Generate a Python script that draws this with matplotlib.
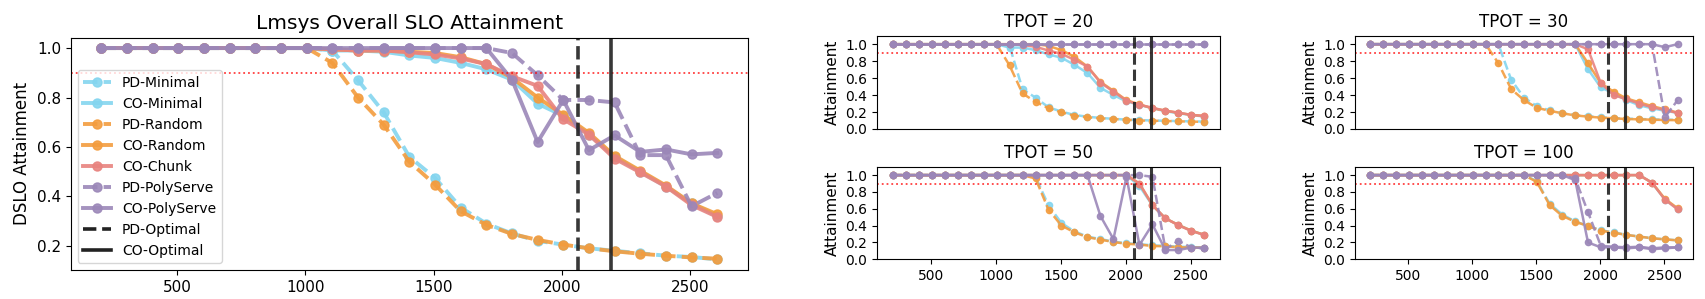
import matplotlib
matplotlib.use("Agg")
import matplotlib.pyplot as plt
from matplotlib.lines import Line2D

# ---------------- data ----------------
x_rate = [205, 305, 405, 505, 605, 705, 805, 905, 1005, 1105, 1205, 1305, 1405,
          1505, 1605, 1705, 1805, 1905, 2005, 2105, 2205, 2305, 2405, 2505, 2605]

series_names = ["PD-Minimal", "CO-Minimal", "PD-Random", "CO-Random",
                "CO-Chunk", "PD-PolyServe", "CO-PolyServe"]

pd_optimal_rate = 2062
co_optimal_rate = 2192
slo_target = 0.9

# Overall (main panel)
main_pd_minimal = [1.0, 1.0, 1.0, 1.0, 1.0, 1.0, 1.0, 1.0, 1.0, 0.99, 0.87, 0.74, 0.56,
                   0.475, 0.355, 0.29, 0.25, 0.22, 0.205, 0.19, 0.18, 0.17, 0.16, 0.155, 0.145]
main_co_minimal = [1.0, 1.0, 1.0, 1.0, 1.0, 1.0, 1.0, 1.0, 1.0, 0.99, 0.99, 0.985, 0.97,
                   0.96, 0.94, 0.914, 0.872, 0.775, 0.726, 0.65, 0.56, 0.50, 0.44, 0.372, 0.32]
main_pd_random = [1.0, 1.0, 1.0, 1.0, 1.0, 1.0, 1.0, 1.0, 1.0, 0.94, 0.80, 0.69, 0.54,
                  0.448, 0.34, 0.285, 0.248, 0.224, 0.205, 0.19, 0.178, 0.168, 0.16, 0.153, 0.148]
main_co_random = [1.0, 1.0, 1.0, 1.0, 1.0, 1.0, 1.0, 1.0, 1.0, 0.995, 0.99, 0.99, 0.985,
                  0.98, 0.963, 0.935, 0.88, 0.80, 0.73, 0.657, 0.564, 0.504, 0.444, 0.372, 0.328]
main_co_chunk = [1.0, 1.0, 1.0, 1.0, 1.0, 1.0, 1.0, 1.0, 1.0, 0.995, 0.99, 0.99, 0.983,
                 0.974, 0.958, 0.935, 0.886, 0.847, 0.712, 0.65, 0.553, 0.497, 0.44, 0.365, 0.317]
main_pd_polyserve = [1.0, 1.0, 1.0, 1.0, 1.0, 1.0, 1.0, 1.0, 1.0, 1.0, 1.0, 1.0, 1.0,
                     1.0, 1.0, 1.0, 0.98, 0.89, 0.79, 0.79, 0.78, 0.567, 0.567, 0.36, 0.414]
main_co_polyserve = [1.0, 1.0, 1.0, 1.0, 1.0, 1.0, 1.0, 1.0, 1.0, 1.0, 1.0, 1.0, 1.0,
                     1.0, 1.0, 1.0, 0.872, 0.62, 0.79, 0.587, 0.647, 0.58, 0.59, 0.57, 0.576]

# TPOT = 20
t20_pd_minimal = [1.0, 1.0, 1.0, 1.0, 1.0, 1.0, 1.0, 1.0, 1.0, 0.98, 0.47, 0.37, 0.256,
                  0.205, 0.165, 0.145, 0.13, 0.12, 0.11, 0.105, 0.10, 0.097, 0.093, 0.09, 0.087]
t20_co_minimal = [1.0, 1.0, 1.0, 1.0, 1.0, 1.0, 1.0, 1.0, 1.0, 0.96, 0.96, 0.93, 0.88,
                  0.84, 0.756, 0.66, 0.485, 0.40, 0.325, 0.285, 0.244, 0.21, 0.185, 0.165, 0.146]
t20_pd_random = [1.0, 1.0, 1.0, 1.0, 1.0, 1.0, 1.0, 1.0, 1.0, 0.75, 0.42, 0.32, 0.245,
                 0.197, 0.157, 0.138, 0.126, 0.118, 0.11, 0.10, 0.098, 0.095, 0.09, 0.088, 0.083]
t20_co_random = [1.0, 1.0, 1.0, 1.0, 1.0, 1.0, 1.0, 1.0, 1.0, 1.0, 1.0, 1.0, 0.98,
                 0.93, 0.85, 0.736, 0.555, 0.45, 0.34, 0.29, 0.244, 0.217, 0.19, 0.167, 0.154]
t20_co_chunk = [1.0, 1.0, 1.0, 1.0, 1.0, 1.0, 1.0, 1.0, 1.0, 1.0, 0.99, 0.97, 0.925,
                0.886, 0.815, 0.736, 0.547, 0.44, 0.335, 0.285, 0.25, 0.215, 0.193, 0.165, 0.154]
t20_pd_polyserve = [1.0, 1.0, 1.0, 1.0, 1.0, 1.0, 1.0, 1.0, 1.0, 1.0, 1.0, 1.0, 1.0,
                    1.0, 1.0, 1.0, 1.0, 1.0, 1.0, 1.0, 1.0, 1.0, 1.0, 1.0, 1.0]
t20_co_polyserve = [1.0, 1.0, 1.0, 1.0, 1.0, 1.0, 1.0, 1.0, 1.0, 1.0, 1.0, 1.0, 1.0,
                    1.0, 1.0, 1.0, 1.0, 1.0, 1.0, 1.0, 1.0, 1.0, 1.0, 1.0, 1.0]

# TPOT = 30
t30_pd_minimal = [1.0, 1.0, 1.0, 1.0, 1.0, 1.0, 1.0, 1.0, 1.0, 1.0, 1.0, 0.58, 0.37,
                  0.27, 0.22, 0.185, 0.165, 0.15, 0.14, 0.13, 0.122, 0.118, 0.113, 0.11, 0.108]
t30_co_minimal = [1.0, 1.0, 1.0, 1.0, 1.0, 1.0, 1.0, 1.0, 1.0, 1.0, 1.0, 1.0, 1.0,
                  1.0, 1.0, 1.0, 1.0, 0.705, 0.49, 0.42, 0.34, 0.28, 0.244, 0.215, 0.19]
t30_pd_random = [1.0, 1.0, 1.0, 1.0, 1.0, 1.0, 1.0, 1.0, 1.0, 1.0, 0.775, 0.47, 0.34,
                 0.25, 0.215, 0.185, 0.16, 0.146, 0.134, 0.126, 0.118, 0.114, 0.11, 0.106, 0.104]
t30_co_random = [1.0, 1.0, 1.0, 1.0, 1.0, 1.0, 1.0, 1.0, 1.0, 1.0, 1.0, 1.0, 1.0,
                 1.0, 1.0, 1.0, 1.0, 0.775, 0.54, 0.44, 0.36, 0.315, 0.27, 0.232, 0.193]
t30_co_chunk = [1.0, 1.0, 1.0, 1.0, 1.0, 1.0, 1.0, 1.0, 1.0, 1.0, 1.0, 1.0, 1.0,
                1.0, 1.0, 1.0, 1.0, 0.94, 0.54, 0.40, 0.35, 0.30, 0.256, 0.224, 0.19]
t30_pd_polyserve = [1.0, 1.0, 1.0, 1.0, 1.0, 1.0, 1.0, 1.0, 1.0, 1.0, 1.0, 1.0, 1.0,
                    1.0, 1.0, 1.0, 1.0, 1.0, 1.0, 1.0, 1.0, 1.0, 1.0, 0.138, 0.34]
t30_co_polyserve = [1.0, 1.0, 1.0, 1.0, 1.0, 1.0, 1.0, 1.0, 1.0, 1.0, 1.0, 1.0, 1.0,
                    1.0, 1.0, 1.0, 1.0, 1.0, 1.0, 1.0, 1.0, 1.0, 1.0, 0.965, 1.0]

# TPOT = 50
t50_pd_minimal = [1.0, 1.0, 1.0, 1.0, 1.0, 1.0, 1.0, 1.0, 1.0, 1.0, 1.0, 0.98, 0.64,
                  0.43, 0.33, 0.27, 0.24, 0.21, 0.19, 0.18, 0.165, 0.16, 0.15, 0.145, 0.14]
t50_co_minimal = [1.0, 1.0, 1.0, 1.0, 1.0, 1.0, 1.0, 1.0, 1.0, 1.0, 1.0, 1.0, 1.0,
                  1.0, 1.0, 1.0, 1.0, 1.0, 1.0, 0.87, 0.64, 0.486, 0.407, 0.34, 0.29]
t50_pd_random = [1.0, 1.0, 1.0, 1.0, 1.0, 1.0, 1.0, 1.0, 1.0, 1.0, 1.0, 0.96, 0.59,
                 0.40, 0.32, 0.262, 0.234, 0.205, 0.185, 0.175, 0.158, 0.155, 0.142, 0.14, 0.138]
t50_co_random = [1.0, 1.0, 1.0, 1.0, 1.0, 1.0, 1.0, 1.0, 1.0, 1.0, 1.0, 1.0, 1.0,
                 1.0, 1.0, 1.0, 1.0, 1.0, 1.0, 0.90, 0.644, 0.486, 0.407, 0.34, 0.29]
t50_co_chunk = [1.0, 1.0, 1.0, 1.0, 1.0, 1.0, 1.0, 1.0, 1.0, 1.0, 1.0, 1.0, 1.0,
                1.0, 1.0, 1.0, 1.0, 1.0, 1.0, 0.90, 0.644, 0.486, 0.405, 0.335, 0.29]
t50_pd_polyserve = [1.0, 1.0, 1.0, 1.0, 1.0, 1.0, 1.0, 1.0, 1.0, 1.0, 1.0, 1.0, 1.0,
                    1.0, 1.0, 1.0, 1.0, 1.0, 1.0, 1.0, 0.98, 0.12, 0.22, 0.14, 0.13]
t50_co_polyserve = [1.0, 1.0, 1.0, 1.0, 1.0, 1.0, 1.0, 1.0, 1.0, 1.0, 1.0, 1.0, 1.0,
                    1.0, 1.0, 1.0, 0.514, 0.24, 0.98, 0.17, 0.415, 0.11, 0.11, 0.14, 0.135]

# TPOT = 100
t100_pd_minimal = [1.0, 1.0, 1.0, 1.0, 1.0, 1.0, 1.0, 1.0, 1.0, 1.0, 1.0, 1.0, 1.0,
                   0.93, 0.66, 0.53, 0.45, 0.395, 0.345, 0.32, 0.29, 0.27, 0.25, 0.237, 0.225]
t100_co_minimal = [1.0, 1.0, 1.0, 1.0, 1.0, 1.0, 1.0, 1.0, 1.0, 1.0, 1.0, 1.0, 1.0,
                   1.0, 1.0, 1.0, 1.0, 1.0, 1.0, 1.0, 1.0, 1.0, 0.91, 0.71, 0.60]
t100_pd_random = [1.0, 1.0, 1.0, 1.0, 1.0, 1.0, 1.0, 1.0, 1.0, 1.0, 1.0, 1.0, 1.0,
                  0.92, 0.644, 0.514, 0.447, 0.395, 0.34, 0.316, 0.29, 0.27, 0.25, 0.237, 0.225]
t100_co_random = [1.0, 1.0, 1.0, 1.0, 1.0, 1.0, 1.0, 1.0, 1.0, 1.0, 1.0, 1.0, 1.0,
                  1.0, 1.0, 1.0, 1.0, 1.0, 1.0, 1.0, 1.0, 1.0, 0.91, 0.72, 0.605]
t100_co_chunk = [1.0, 1.0, 1.0, 1.0, 1.0, 1.0, 1.0, 1.0, 1.0, 1.0, 1.0, 1.0, 1.0,
                 1.0, 1.0, 1.0, 1.0, 1.0, 1.0, 1.0, 1.0, 1.0, 0.91, 0.71, 0.593]
t100_pd_polyserve = [1.0, 1.0, 1.0, 1.0, 1.0, 1.0, 1.0, 1.0, 1.0, 1.0, 1.0, 1.0, 1.0,
                     1.0, 1.0, 1.0, 0.96, 0.56, 0.16, 0.15, 0.142, 0.15, 0.13, 0.142, 0.142]
t100_co_polyserve = [1.0, 1.0, 1.0, 1.0, 1.0, 1.0, 1.0, 1.0, 1.0, 1.0, 1.0, 1.0, 1.0,
                     1.0, 1.0, 1.0, 0.94, 0.20, 0.142, 0.142, 0.13, 0.142, 0.12, 0.13, 0.142]

panels = {
    "main": [main_pd_minimal, main_co_minimal, main_pd_random, main_co_random,
             main_co_chunk, main_pd_polyserve, main_co_polyserve],
    "TPOT = 20": [t20_pd_minimal, t20_co_minimal, t20_pd_random, t20_co_random,
                  t20_co_chunk, t20_pd_polyserve, t20_co_polyserve],
    "TPOT = 30": [t30_pd_minimal, t30_co_minimal, t30_pd_random, t30_co_random,
                  t30_co_chunk, t30_pd_polyserve, t30_co_polyserve],
    "TPOT = 50": [t50_pd_minimal, t50_co_minimal, t50_pd_random, t50_co_random,
                  t50_co_chunk, t50_pd_polyserve, t50_co_polyserve],
    "TPOT = 100": [t100_pd_minimal, t100_co_minimal, t100_pd_random, t100_co_random,
                   t100_co_chunk, t100_pd_polyserve, t100_co_polyserve],
}

# ---------------- styles ----------------
c_blue = "#84d5ef"
c_orange = "#f39c3e"
c_pink = "#e8837f"
c_purple = "#9b87b8"
series_colors = [c_blue, c_blue, c_orange, c_orange, c_pink, c_purple, c_purple]
series_ls = ["--", "-", "--", "-", "-", "--", "-"]

W, H = 1705, 299
fig = plt.figure(figsize=(W / 100, H / 100), dpi=100)


def px(l, t, r, b):
    return [l / W, 1 - b / H, (r - l) / W, (b - t) / H]


ax_main = fig.add_axes(px(70.7, 37.5, 748, 270))
ax20 = fig.add_axes(px(877, 35.7, 1220, 129))
ax30 = fig.add_axes(px(1355, 35.7, 1693, 129))
ax50 = fig.add_axes(px(877, 166.7, 1220, 259.3))
ax100 = fig.add_axes(px(1355, 166.7, 1693, 259.3))


def draw(ax, data, lw, ms, vlw):
    for name, ys, col, ls in zip(series_names, data, series_colors, series_ls):
        ax.plot(x_rate, ys, linestyle=ls, color=col, lw=lw, marker="o",
                markersize=ms, alpha=0.9, label=name)
    ax.axhline(slo_target, color="red", linestyle=":", lw=1.3, alpha=0.75)
    ax.axvline(pd_optimal_rate, color="#222222", linestyle="--", lw=vlw, alpha=0.9)
    ax.axvline(co_optimal_rate, color="#222222", linestyle="-", lw=vlw, alpha=0.9)


# main panel
draw(ax_main, panels["main"], 2.8, 6.5, 2.6)
ax_main.set_title("Lmsys Overall SLO Attainment", fontsize=14.5)
ax_main.set_ylabel("DSLO Attainment", fontsize=12)
ax_main.tick_params(labelsize=11)
ax_main.set_yticks([0.2, 0.4, 0.6, 0.8, 1.0])

handles = [Line2D([], [], color=c, linestyle=ls, lw=2.8, marker="o", markersize=6.5, alpha=0.9)
           for c, ls in zip(series_colors, series_ls)]
handles += [Line2D([], [], color="#222222", linestyle="--", lw=2.6),
            Line2D([], [], color="#222222", linestyle="-", lw=2.6)]
labels = series_names + ["PD-Optimal", "CO-Optimal"]
ax_main.legend(handles, labels, loc="lower left", fontsize=10, framealpha=0.8)

for ax, key in [(ax20, "TPOT = 20"), (ax30, "TPOT = 30"),
                (ax50, "TPOT = 50"), (ax100, "TPOT = 100")]:
    draw(ax, panels[key], 1.8, 4.5, 2.2)
    ax.set_title(key, fontsize=12)
    ax.set_ylabel("Attainment", fontsize=11)
    ax.set_ylim(0, 1.1)
    ax.set_yticks([0.0, 0.2, 0.4, 0.6, 0.8, 1.0])
    ax.tick_params(labelsize=10)
    ax.set_xlim(ax_main.get_xlim())

for ax in (ax20, ax30):
    ax.tick_params(bottom=False, labelbottom=False)

fig.savefig("out.png", dpi=100)
